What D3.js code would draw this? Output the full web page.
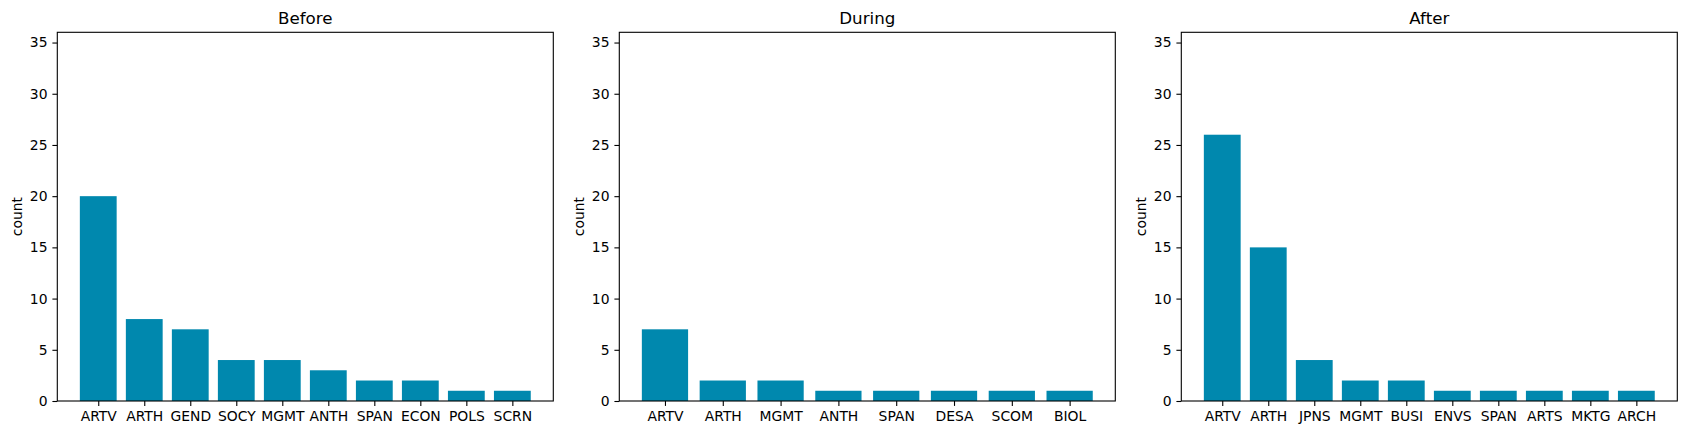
<!DOCTYPE html>
<html>
<head>
<meta charset="utf-8">
<script src="https://cdn.jsdelivr.net/npm/d3@7"></script>
<style>
  html, body { margin: 0; padding: 0; background: #fff; }
  svg { display: block; font-family: "DejaVu Sans", sans-serif; }
</style>
</head>
<body>
<svg id="chart" width="1686" height="435"></svg>
<script>
// data
const titles = ["Before", "During", "After"];

const beforeDepts = ["ARTV", "ARTH", "GEND", "SOCY", "MGMT", "ANTH", "SPAN", "ECON", "POLS", "SCRN"];
const beforeCounts = [20, 8, 7, 4, 4, 3, 2, 2, 1, 1];

const duringDepts = ["ARTV", "ARTH", "MGMT", "ANTH", "SPAN", "DESA", "SCOM", "BIOL"];
const duringCounts = [7, 2, 2, 1, 1, 1, 1, 1];

const afterDepts = ["ARTV", "ARTH", "JPNS", "MGMT", "BUSI", "ENVS", "SPAN", "ARTS", "MKTG", "ARCH"];
const afterCounts = [26, 15, 4, 2, 2, 1, 1, 1, 1, 1];

const yTicks = [0, 5, 10, 15, 20, 25, 30, 35];
const yMax = 36;

const panels = [
  { title: titles[0], depts: beforeDepts, counts: beforeCounts },
  { title: titles[1], depts: duringDepts, counts: duringCounts },
  { title: titles[2], depts: afterDepts, counts: afterCounts },
];

// layout (matplotlib-like figure)
const axLefts = [57.3, 619.3, 1181.3];
const axWidth = 496;
const axTop = 32.3;
const axBottom = 401;
const barColor = "#0088ae";
const tickLen = 4.9;
const tickPad = 4.9;
const fontSize = 13.9;

const svg = d3.select("#chart");

panels.forEach((p, k) => {
  const n = p.depts.length;
  const margin = 0.05 * (n - 1 + 0.8);
  const x = d3.scaleLinear()
    .domain([-0.4 - margin, n - 1 + 0.4 + margin])
    .range([0, axWidth]);
  const y = d3.scaleLinear()
    .domain([0, yMax])
    .range([axBottom - axTop, 0]);

  const g = svg.append("g")
    .attr("transform", `translate(${axLefts[k]},${axTop})`);

  // bars
  g.selectAll("rect.bar")
    .data(p.counts)
    .join("rect")
    .attr("class", "bar")
    .attr("x", (d, i) => x(i - 0.4))
    .attr("width", (d, i) => x(i + 0.4) - x(i - 0.4))
    .attr("y", d => y(d))
    .attr("height", d => y(0) - y(d))
    .attr("fill", barColor);

  // x axis
  const xAxis = d3.axisBottom(x)
    .tickValues(d3.range(n))
    .tickFormat(i => p.depts[i])
    .tickSize(tickLen)
    .tickPadding(tickPad);
  const gx = g.append("g")
    .attr("transform", `translate(0,${axBottom - axTop})`)
    .call(xAxis);

  // y axis
  const yAxis = d3.axisLeft(y)
    .tickValues(yTicks)
    .tickSize(tickLen)
    .tickPadding(tickPad);
  const gy = g.append("g").call(yAxis);

  [gx, gy].forEach(a => {
    a.select(".domain").remove();
    a.selectAll(".tick line").attr("stroke", "#000").attr("stroke-width", 1.1);
    a.selectAll(".tick text")
      .attr("fill", "#000")
      .style("font-family", "'DejaVu Sans', sans-serif")
      .style("font-size", fontSize + "px");
  });
  gx.selectAll(".tick text").attr("dy", "0.72em");

  // frame
  g.append("rect")
    .attr("x", 0)
    .attr("y", 0)
    .attr("width", axWidth)
    .attr("height", axBottom - axTop)
    .attr("fill", "none")
    .attr("stroke", "#000")
    .attr("stroke-width", 1.1);

  // title
  g.append("text")
    .attr("x", axWidth / 2)
    .attr("y", -8.3)
    .attr("text-anchor", "middle")
    .style("font-size", "16.7px")
    .attr("fill", "#000")
    .text(p.title);

  // y label
  g.append("text")
    .attr("transform", `translate(${-axLefts[0] + 21.5},${(axBottom - axTop) / 2}) rotate(-90)`)
    .attr("text-anchor", "middle")
    .style("font-size", fontSize + "px")
    .attr("fill", "#000")
    .text("count");
});
</script>
</body>
</html>
